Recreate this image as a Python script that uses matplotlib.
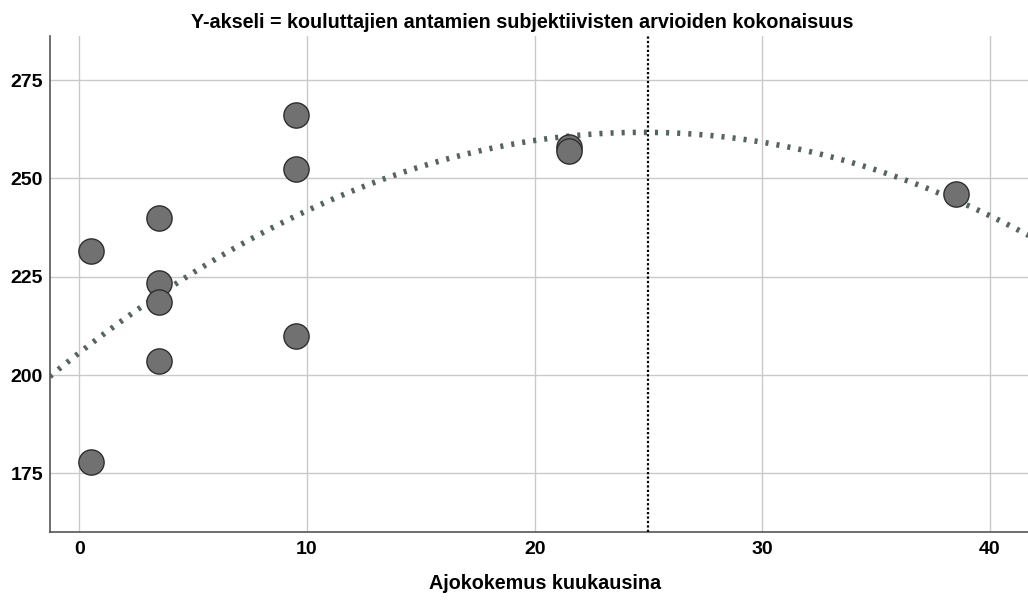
import matplotlib.pyplot as plt
import numpy as np

plt.rcParams['font.family'] = ['Liberation Sans', 'DejaVu Sans']

# kokemus (kk) ja arvioiden summa
months = [0.5, 0.5, 3.5, 3.5, 3.5, 3.5, 9.5, 9.5, 9.5, 21.5, 21.5, 38.5]
scores = [231.5, 178, 240, 223.5, 218.5, 203.5, 266, 252.5, 210, 258, 257, 246]
marker_x = 25
xticks = [0, 10, 20, 30, 40]
yticks = [175, 200, 225, 250, 275]

fig = plt.figure(figsize=(10.28, 6), dpi=100)
ax = fig.add_axes([0.0486, 0.1138, 0.9514, 0.8262])

coef = np.polyfit(months, scores, 2)
xs = np.linspace(-1.3, 41.7, 300)
ax.plot(xs, np.polyval(coef, xs), color='#56645e', lw=4.0,
        linestyle=(0, (0.55, 1.45)), zorder=2)

ax.axvline(marker_x, color='black', lw=1.6, linestyle=(0, (1, 1)), zorder=3)

ax.scatter(months, scores, s=330, color='#717171', edgecolor='#2e2e2e',
           linewidth=1.0, zorder=4)

ax.set_xlim(-1.29, 41.67)
ax.set_ylim(160.15, 286.2)
ax.set_xticks(xticks)
ax.set_yticks(yticks)
ax.grid(True, color='#c9c9c9', lw=1)
ax.set_axisbelow(True)
ax.tick_params(length=0, labelsize=14)
ax.tick_params(axis='x', pad=7)
ax.tick_params(axis='y', pad=5)
for lab in ax.get_xticklabels() + ax.get_yticklabels():
    lab.set_fontweight('bold')
for s in ['top', 'right']:
    ax.spines[s].set_visible(False)
for s in ['left', 'bottom']:
    ax.spines[s].set_color('#555555')
    ax.spines[s].set_linewidth(1.2)

fig.text(0.508, 0.963, 'Y-akseli = kouluttajien antamien subjektiivisten arvioiden kokonaisuus',
         ha='center', va='center', fontsize=14.2, fontweight='bold')
fig.text(0.53, 0.028, 'Ajokokemus kuukausina', ha='center', va='center',
         fontsize=14.2, fontweight='bold')

fig.savefig('out.png')
